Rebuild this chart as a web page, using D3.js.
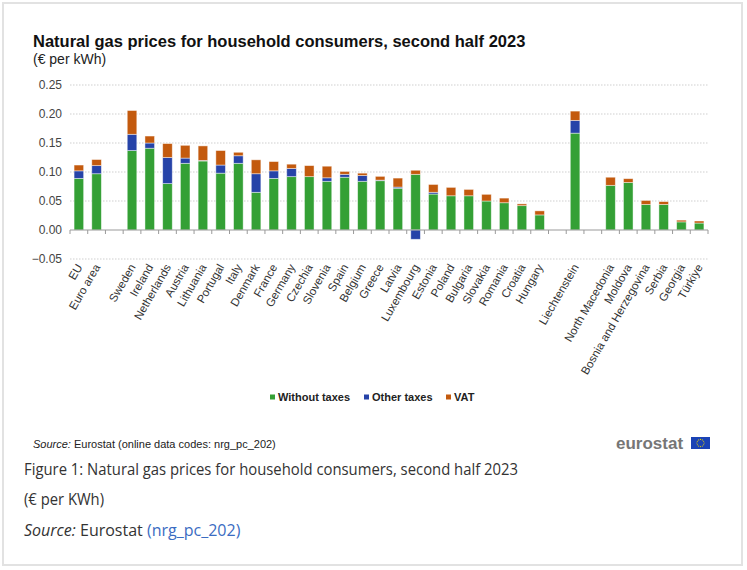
<!DOCTYPE html>
<html>
<head>
<meta charset="utf-8">
<script src="https://cdn.jsdelivr.net/npm/d3@7"></script>
<style>
  body { margin: 0; background: #fff; }
  svg { display: block; }
</style>
</head>
<body>
<div id="chart"></div>
<script>
// categories (null = empty slot between groups)
const countries = ["EU", "Euro area", null, "Sweden", "Ireland", "Netherlands", "Austria", "Lithuania",
  "Portugal", "Italy", "Denmark", "France", "Germany", "Czechia", "Slovenia", "Spain", "Belgium",
  "Greece", "Latvia", "Luxembourg", "Estonia", "Poland", "Bulgaria", "Slovakia", "Romania", "Croatia",
  "Hungary", null, "Liechtenstein", null, "North Macedonia", "Moldova", "Bosnia and Herzegovina",
  "Serbia", "Georgia", "Türkiye"];

// € per kWh
const withoutTaxes = [0.089, 0.097, null, 0.137, 0.141, 0.080, 0.115, 0.119,
  0.098, 0.115, 0.065, 0.089, 0.092, 0.092, 0.084, 0.091, 0.084,
  0.085, 0.072, 0.096, 0.062, 0.059, 0.059, 0.050, 0.047, 0.042,
  0.026, null, 0.167, null, 0.077, 0.082, 0.044,
  0.044, 0.014, 0.012];
const otherTaxes = [0.013, 0.014, null, 0.028, 0.009, 0.045, 0.009, 0.001,
  0.014, 0.013, 0.032, 0.013, 0.014, 0.000, 0.006, 0.005, 0.010,
  0.001, 0.002, -0.016, 0.003, 0.000, 0.000, 0.000, 0.000, 0.000,
  0.000, null, 0.022, null, 0.000, 0.000, 0.000,
  0.000, 0.000, 0.000];
const vat = [0.010, 0.0105, null, 0.041, 0.012, 0.024, 0.022, 0.025,
  0.025, 0.006, 0.024, 0.016, 0.0075, 0.019, 0.020, 0.005, 0.004,
  0.0065, 0.0155, 0.007, 0.0135, 0.0145, 0.011, 0.0115, 0.008, 0.003,
  0.007, null, 0.016, null, 0.014, 0.0065, 0.007,
  0.005, 0.003, 0.0035];

const seriesNames = ["Without taxes", "Other taxes", "VAT"];
const seriesColors = ["#34a035", "#2643a8", "#c35a0e"];
const yTicks = [-0.05, 0, 0.05, 0.10, 0.15, 0.20, 0.25];

const width = 747, height = 570;

const svg = d3.select("#chart").append("svg")
  .attr("width", width)
  .attr("height", height)
  .style("font-family", "'Liberation Sans', Arial, sans-serif");

// cadre gris
svg.append("rect")
  .attr("x", 3).attr("y", 3)
  .attr("width", 739).attr("height", 562)
  .attr("fill", "#fff")
  .attr("stroke", "#e2e2e2")
  .attr("stroke-width", 2);

// titres
svg.append("text")
  .attr("x", 33).attr("y", 47)
  .style("font-size", "16.5px").style("font-weight", "bold").style("fill", "#111")
  .text("Natural gas prices for household consumers, second half 2023");
svg.append("text")
  .attr("x", 33).attr("y", 64)
  .style("font-size", "14px").style("fill", "#222")
  .text("(€ per kWh)");

// données
const rows = countries.map((c, i) => ({
  i: i,
  name: c,
  "Without taxes": withoutTaxes[i] || 0,
  "Other taxes": otherTaxes[i] || 0,
  "VAT": vat[i] || 0
}));

const stacked = d3.stack().keys(seriesNames).offset(d3.stackOffsetDiverging)(rows);

const x = d3.scaleBand()
  .domain(d3.range(countries.length))
  .range([70, 708])
  .padding(0);

const y = d3.scaleLinear()
  .domain([-0.05, 0.25])
  .range([259, 85]);

const color = d3.scaleOrdinal().domain(seriesNames).range(seriesColors);

// grille pointillée
svg.append("g")
  .selectAll("line")
  .data(yTicks.filter(d => d !== 0))
  .enter().append("line")
  .attr("x1", 70).attr("x2", 708)
  .attr("y1", d => y(d)).attr("y2", d => y(d))
  .attr("stroke", "#cfcfcf")
  .attr("stroke-dasharray", "1.5,1.5");

// eix Y
const yAxis = svg.append("g")
  .attr("transform", "translate(70,0)")
  .call(d3.axisLeft(y).tickValues(yTicks).tickFormat(d3.format(".2f")).tickSize(0).tickPadding(8));
yAxis.select(".domain").remove();
yAxis.selectAll("text")
  .style("font-size", "12px")
  .style("font-family", "'Liberation Sans', Arial, sans-serif")
  .style("fill", "#444");

// barres
const barW = x.bandwidth() * 0.54;
svg.append("g")
  .selectAll("g")
  .data(stacked)
  .enter().append("g")
  .attr("fill", d => color(d.key))
  .selectAll("rect")
  .data(d => d.filter(s => s.data.name !== null && s[1] !== s[0]))
  .enter().append("rect")
  .attr("x", s => x(s.data.i) + (x.bandwidth() - barW) / 2)
  .attr("width", barW)
  .attr("y", s => y(Math.max(s[0], s[1])))
  .attr("height", s => Math.abs(y(s[0]) - y(s[1])))
  .attr("stroke", "#fff")
  .attr("stroke-opacity", 0.55)
  .attr("stroke-width", 0.8);

// eix zero amb marques entre categories
const axis0 = svg.append("g");
axis0.append("line")
  .attr("x1", 70).attr("x2", 708)
  .attr("y1", y(0)).attr("y2", y(0))
  .attr("stroke", "#9a9a9a");
axis0.selectAll(".tick")
  .data(d3.range(countries.length + 1))
  .enter().append("line")
  .attr("x1", k => x.range()[0] + k * x.step())
  .attr("x2", k => x.range()[0] + k * x.step())
  .attr("y1", y(0)).attr("y2", y(0) + 4)
  .attr("stroke", "#9a9a9a");

// etiquetes X
svg.append("g")
  .selectAll("text")
  .data(rows.filter(r => r.name !== null))
  .enter().append("text")
  .attr("transform", r => `translate(${x(r.i) + x.bandwidth() / 2 + 4},${267}) rotate(-60)`)
  .style("text-anchor", "end")
  .style("font-size", "11.5px")
  .style("fill", "#333")
  .text(r => r.name);

// llegenda
const legendX = [270, 364, 446];
const legend = svg.append("g")
  .selectAll("g")
  .data(seriesNames)
  .enter().append("g")
  .attr("transform", (d, i) => `translate(${legendX[i]},397)`);
legend.append("rect")
  .attr("x", 0).attr("y", -2.5)
  .attr("width", 5).attr("height", 5)
  .attr("fill", d => color(d));
legend.append("text")
  .attr("x", 8).attr("y", 4)
  .style("font-size", "11px").style("font-weight", "bold").style("fill", "#222")
  .text(d => d);

// font
const src = svg.append("text")
  .attr("x", 33).attr("y", 448)
  .style("font-size", "11px").style("fill", "#222");
src.append("tspan").style("font-style", "italic").text("Source:");
src.append("tspan").text(" Eurostat (online data codes: nrg_pc_202)");

// logo eurostat
svg.append("text")
  .attr("x", 616).attr("y", 449)
  .style("font-size", "17px").style("font-weight", "bold").style("fill", "#767676")
  .text("eurostat");
svg.append("rect")
  .attr("x", 691).attr("y", 437)
  .attr("width", 19).attr("height", 12)
  .attr("fill", "#1b43b5");
svg.append("g")
  .selectAll("circle")
  .data(d3.range(12))
  .enter().append("circle")
  .attr("cx", k => 700.5 + 3.6 * Math.cos(k * Math.PI / 6))
  .attr("cy", k => 443 + 3.6 * Math.sin(k * Math.PI / 6))
  .attr("r", 0.55)
  .attr("fill", "#e8d400");

// peu de figura (HTML)
const cap = "'Open Sans', 'Noto Sans', sans-serif";
svg.append("text")
  .attr("x", 24).attr("y", 475)
  .style("font-family", cap).style("font-size", "16px").style("fill", "#333")
  .attr("textLength", 494).attr("lengthAdjust", "spacingAndGlyphs")
  .text("Figure 1: Natural gas prices for household consumers, second half 2023");
svg.append("text")
  .attr("x", 24).attr("y", 505)
  .style("font-family", cap).style("font-size", "16px").style("fill", "#333")
  .attr("textLength", 80).attr("lengthAdjust", "spacingAndGlyphs")
  .text("(€ per KWh)");
const src2 = svg.append("text")
  .attr("x", 24).attr("y", 536)
  .style("font-family", cap).style("font-size", "16px").style("fill", "#333");
src2.append("tspan").style("font-style", "italic").text("Source:");
src2.append("tspan").text(" Eurostat ");
src2.append("tspan").style("fill", "#3b6cc2").text("(nrg_pc_202)");
</script>
</body>
</html>
